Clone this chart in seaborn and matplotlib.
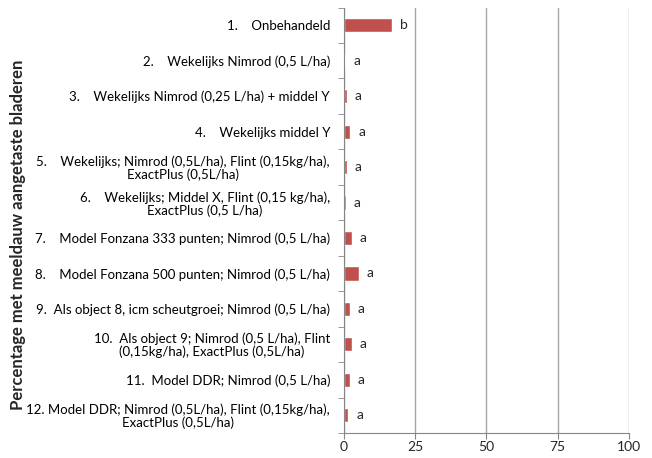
import numpy as np
import pandas as pd
import matplotlib
matplotlib.use("Agg")
import matplotlib.pyplot as plt
import seaborn as sns

# data
treatments = [
    "1.    Onbehandeld",
    "2.    Wekelijks Nimrod (0,5 L/ha)",
    "3.    Wekelijks Nimrod (0,25 L/ha) + middel Y",
    "4.    Wekelijks middel Y",
    "5.    Wekelijks; Nimrod (0,5L/ha), Flint (0,15kg/ha),\nExactPlus (0,5L/ha)",
    "6.    Wekelijks; Middel X, Flint (0,15 kg/ha),\nExactPlus (0,5 L/ha)",
    "7.    Model Fonzana 333 punten; Nimrod (0,5 L/ha)",
    "8.    Model Fonzana 500 punten; Nimrod (0,5 L/ha)",
    "9.  Als object 8, icm scheutgroei; Nimrod (0,5 L/ha)",
    "10.  Als object 9; Nimrod (0,5 L/ha), Flint\n(0,15kg/ha), ExactPlus (0,5L/ha)",
    "11.  Model DDR; Nimrod (0,5 L/ha)",
    "12. Model DDR; Nimrod (0,5L/ha), Flint (0,15kg/ha),\nExactPlus (0,5L/ha)",
]
pct_infected = [16.8, 0.5, 0.9, 2.1, 0.9, 0.6, 2.7, 5.1, 2.0, 2.7, 2.0, 1.5]
letters = ["b", "a", "a", "a", "a", "a", "a", "a", "a", "a", "a", "a"]

df = pd.DataFrame({"treatment": treatments, "pct": pct_infected})

sns.set_style("white")
plt.rcParams['font.family'] = ['Lato', 'DejaVu Sans']

fig = plt.figure(figsize=(6.52, 4.58), dpi=100)
ax = fig.add_axes([0.5276, 0.0546, 0.437, 0.929])

sns.barplot(data=df, x="pct", y="treatment", orient="h", color="#C0504D",
            saturation=1, width=0.4, ax=ax)

ax.bar_label(ax.containers[0], labels=letters, padding=6, fontsize=10)

ax.set_xlim(0, 100)
ax.set_xticks([0, 25, 50, 75, 100])
ax.xaxis.grid(True, color="#A6A6A6", linewidth=1)
ax.set_axisbelow(True)

# labels at category centres, tick marks on category boundaries
ax.set_yticks(range(len(treatments)))
ax.set_yticklabels(treatments, multialignment="center", linespacing=1.05)
ax.set_yticks(np.arange(-0.5, len(treatments), 1), minor=True)
ax.tick_params(axis="y", which="major", length=0, pad=10, labelsize=9.5, colors="#000000")
ax.tick_params(axis="y", which="minor", length=4, color="#868686", direction="out", left=True)
ax.tick_params(axis="x", length=4, color="#868686", direction="out", bottom=True, labelsize=10, pad=2)
ax.set_ylim(len(treatments) - 0.5, -0.5)

for side in ["top", "right"]:
    ax.spines[side].set_visible(False)
for side in ["left", "bottom"]:
    ax.spines[side].set_color("#868686")

ax.set_xlabel("")
ax.set_ylabel("")
fig.text(0.028, 0.487, "Percentage met meeldauw aangetaste bladeren", rotation=90,
         fontsize=12, fontweight="bold", ha="center", va="center")

fig.savefig("out.png", dpi=100)
